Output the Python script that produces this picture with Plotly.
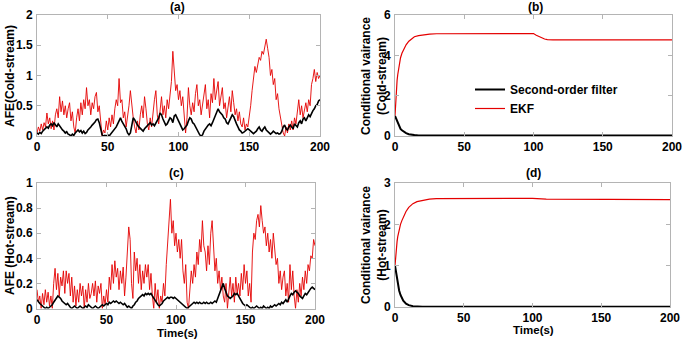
import plotly.graph_objects as go

# ---------------- data ----------------
t_afe = list(range(0, 201))

afe_cold_ekf = [
    0.05, 0.15, 0.08, 0.2, 0.1, 0.22, 0.15, 0.38, 0.2, 0.3,
    0.12, 0.25, 0.1, 0.35, 0.45, 0.3, 0.65, 0.4, 0.58, 0.35,
    0.5, 0.3, 0.45, 0.55, 0.25, 0.4, 0.15, 0.05, 0.3, 0.45,
    0.25, 0.55, 0.35, 0.6, 0.45, 0.8, 0.5, 0.6, 0.35, 0.55,
    0.45, 0.65, 0.72, 0.4, 0.5, 0.2, 0.0, 0.1, 0.05, 0.25,
    0.1, 0.3, 0.15, 0.35, 0.2, 0.45, 0.6, 0.5, 0.95, 0.55,
    0.6, 0.3, 0.4, 0.15, 0.3, 0.5, 0.75, 0.45, 0.3, 0.15,
    0.05, 0.25, 0.1, 0.35, 0.5, 0.3, 0.65, 0.45, 0.2, 0.1,
    0.3, 0.15, 0.4, 0.6, 0.75, 0.35, 0.2, 0.45, 0.65, 0.35,
    0.5, 0.3, 0.6, 0.45, 0.7, 0.9, 1.4, 1.1, 0.75, 0.85,
    0.6, 0.75, 0.5, 0.65, 0.35, 0.05, 0.3, 0.8, 0.5, 0.35,
    0.55, 0.4, 0.7, 0.85, 0.5, 0.6, 0.35, 0.55, 0.75, 0.85,
    0.45, 0.6, 0.3, 0.7, 0.55, 0.95, 0.6, 0.75, 0.9, 0.5,
    0.65, 0.8, 0.45, 0.55, 0.3, 0.5, 0.65, 0.4, 0.75, 0.55,
    0.35, 0.45, 0.25, 0.4, 0.2, 0.15, 0.3, 0.1, 0.2, 0.15,
    0.3, 0.5, 0.75, 0.95, 1.15, 1.05, 1.2, 1.3, 1.25, 1.4,
    1.35, 1.5, 1.6, 1.45, 1.3, 1.0, 1.1, 0.85, 0.95, 0.6,
    0.7, 0.45, 0.3, 0.15, 0.05, 0.0, 0.15, 0.05, 0.2, 0.1,
    0.25, 0.1, 0.3, 0.2, 0.45, 0.6, 0.35, 0.5, 0.3, 0.45,
    0.55, 0.4, 0.6, 0.5, 0.85, 0.95, 1.1, 0.9, 1.05, 0.95,
    1.0,
]

afe_cold_sof = [
    0.05, 0.03, 0.06, 0.04, 0.08, 0.1, 0.12, 0.15, 0.13, 0.18,
    0.2, 0.17, 0.22, 0.18, 0.15, 0.2, 0.17, 0.12, 0.1, 0.08,
    0.05, 0.07, 0.03, 0.02, 0.0, 0.03, 0.01, 0.05, 0.08, 0.1,
    0.07, 0.09, 0.05, 0.08, 0.04, 0.06, 0.1, 0.12, 0.15, 0.18,
    0.2, 0.23, 0.27, 0.28, 0.22, 0.1, 0.02, 0.0, 0.01, 0.0,
    0.02, 0.0, 0.03, 0.05, 0.08, 0.12, 0.15, 0.2, 0.25, 0.3,
    0.24, 0.2, 0.15, 0.12, 0.05, 0.02, 0.05, 0.2, 0.3, 0.27,
    0.22, 0.18, 0.15, 0.12, 0.1, 0.08, 0.12, 0.15, 0.18, 0.2,
    0.22, 0.18, 0.2, 0.17, 0.22, 0.25, 0.3, 0.38, 0.35, 0.28,
    0.22, 0.18, 0.2, 0.25, 0.3, 0.28, 0.22, 0.33, 0.35, 0.3,
    0.25, 0.2, 0.15, 0.1, 0.12, 0.15, 0.18, 0.25, 0.3, 0.28,
    0.22, 0.2, 0.15, 0.1, 0.05, 0.02, 0.0, 0.02, 0.08, 0.12,
    0.15, 0.18, 0.2, 0.17, 0.22, 0.28, 0.35, 0.42, 0.45, 0.4,
    0.38, 0.35, 0.3, 0.28, 0.22, 0.2, 0.25, 0.3, 0.35, 0.32,
    0.25, 0.2, 0.15, 0.1, 0.08, 0.05, 0.06, 0.08, 0.1, 0.12,
    0.1, 0.08, 0.05, 0.04, 0.06, 0.08, 0.12, 0.15, 0.1, 0.08,
    0.12, 0.15, 0.1, 0.08, 0.05, 0.03, 0.05, 0.08, 0.06, 0.04,
    0.05, 0.03, 0.04, 0.08, 0.15, 0.18, 0.12, 0.1, 0.15, 0.18,
    0.15, 0.12, 0.2, 0.18, 0.15, 0.22, 0.25, 0.2, 0.28, 0.3,
    0.25, 0.3, 0.35, 0.32, 0.38, 0.42, 0.45, 0.5, 0.52, 0.58,
    0.6,
]

afe_hot_ekf = [
    0.15, 0.05, 0.1, 0.0, 0.12, 0.03, 0.15, 0.05, 0.13, 0.02,
    0.1, 0.0, 0.2, 0.32, 0.15, 0.28, 0.1, 0.25, 0.18, 0.3,
    0.12, 0.3, 0.2, 0.28, 0.1, 0.25, 0.05, 0.18, 0.02, 0.15,
    0.05, 0.2, 0.1, 0.18, 0.0, 0.15, 0.05, 0.2, 0.08, 0.12,
    0.2, 0.1, 0.22, 0.05, 0.18, 0.12, 0.2, 0.0, 0.1, 0.03,
    0.15, 0.05, 0.25, 0.15, 0.35, 0.2, 0.38, 0.25, 0.32, 0.15,
    0.3, 0.2, 0.33, 0.1, 0.25, 0.45, 0.65, 0.55, 0.2, 0.08,
    0.45, 0.3, 0.4, 0.2, 0.35, 0.15, 0.3, 0.2, 0.35, 0.25,
    0.35, 0.15, 0.28, 0.1, 0.0, 0.2, 0.05, 0.15, 0.0, 0.1,
    0.05, 0.2, 0.1, 0.35, 0.5, 0.65, 0.87, 0.6, 0.7, 0.5,
    0.6, 0.45, 0.55, 0.4, 0.55, 0.3, 0.2, 0.35, 0.05, 0.0,
    0.15, 0.3, 0.2, 0.35, 0.25, 0.45, 0.35, 0.55, 0.45, 0.7,
    0.5, 0.45, 0.3, 0.5, 0.35, 0.6, 0.7, 0.45, 0.3, 0.4,
    0.2, 0.3, 0.15, 0.25, 0.1, 0.05, 0.2, 0.0, 0.15, 0.25,
    0.1, 0.2, 0.05, 0.25, 0.12, 0.2, 0.1, 0.28, 0.15, 0.35,
    0.2, 0.3, 0.1, 0.2, 0.05, 0.45, 0.6, 0.55, 0.7, 0.75,
    0.65, 0.82, 0.7, 0.6, 0.65, 0.5, 0.6, 0.45, 0.55, 0.4,
    0.6, 0.45, 0.35, 0.4, 0.2, 0.3, 0.15, 0.25, 0.3, 0.1,
    0.2, 0.05, 0.35, 0.15, 0.3, 0.1, 0.0, 0.15, 0.05, 0.2,
    0.1, 0.25, 0.15, 0.3, 0.2, 0.35, 0.3, 0.42, 0.4, 0.55,
    0.5,
]

afe_hot_sof = [
    0.07, 0.05, 0.04, 0.03, 0.02, 0.01, 0.0, 0.01, 0.0, 0.01,
    0.02, 0.03, 0.05, 0.07, 0.09, 0.1, 0.09, 0.08, 0.06, 0.05,
    0.04, 0.03, 0.04, 0.02, 0.01, 0.0, 0.01, 0.02, 0.01, 0.0,
    0.01, 0.02, 0.01, 0.0, 0.01, 0.02, 0.01, 0.03, 0.02, 0.01,
    0.0, 0.01, 0.02, 0.01, 0.0, 0.01, 0.02, 0.03, 0.02, 0.03,
    0.04, 0.03, 0.05, 0.04, 0.05, 0.06, 0.05, 0.06, 0.05, 0.04,
    0.05, 0.04, 0.03, 0.04, 0.02, 0.01, 0.02, 0.01, 0.0, 0.02,
    0.03, 0.05, 0.06, 0.08, 0.09, 0.1, 0.11, 0.1, 0.12, 0.11,
    0.12, 0.11, 0.12, 0.1, 0.08, 0.06, 0.04, 0.03, 0.02, 0.03,
    0.04, 0.06, 0.07, 0.08, 0.09, 0.08, 0.09, 0.09, 0.08, 0.09,
    0.08, 0.07, 0.06, 0.05, 0.04, 0.03, 0.02, 0.01, 0.0, 0.01,
    0.02, 0.03, 0.04, 0.05, 0.04, 0.05, 0.04, 0.05, 0.04, 0.04,
    0.05, 0.04, 0.05, 0.04, 0.04, 0.05, 0.04, 0.05, 0.06, 0.05,
    0.08, 0.11, 0.15, 0.18, 0.2, 0.16, 0.12, 0.1, 0.09, 0.08,
    0.09, 0.1, 0.12, 0.11, 0.12, 0.1, 0.08, 0.05, 0.04, 0.03,
    0.02, 0.03, 0.02, 0.01, 0.0, 0.01, 0.0, 0.01, 0.02, 0.01,
    0.0, 0.01, 0.0, 0.02, 0.01, 0.0, 0.01, 0.0, 0.02, 0.01,
    0.02, 0.03, 0.02, 0.03, 0.04, 0.03, 0.05, 0.04, 0.06, 0.07,
    0.05, 0.08, 0.1, 0.12, 0.11, 0.13, 0.14, 0.13, 0.12, 0.1,
    0.09, 0.08, 0.1, 0.12, 0.11, 0.13, 0.15, 0.16, 0.17, 0.16,
    0.15,
]

# conditional variance (cold stream)
t_var_cold = [0, 0.5, 1, 1.5, 2, 3, 4, 5, 6, 8, 10, 12, 14, 17, 20, 25, 30, 50,
              100, 102, 104, 106, 108, 110, 114, 200]
var_cold_ekf = [1.0, 1.8, 2.35, 2.75, 3.05, 3.55, 3.88, 4.1, 4.26, 4.52, 4.7, 4.83,
                4.92, 4.98, 5.02, 5.05, 5.07, 5.08, 5.08, 5.0, 4.93, 4.86, 4.81,
                4.78, 4.77, 4.77]
var_cold_sof = [1.0, 0.92, 0.8, 0.7, 0.6, 0.45, 0.35, 0.28, 0.22, 0.14, 0.09, 0.06,
                0.045, 0.03, 0.025, 0.02, 0.02, 0.02, 0.02, 0.025, 0.03, 0.03, 0.03,
                0.03, 0.025, 0.02]

# conditional variance (hot stream)
t_var_hot = [0, 0.5, 1, 1.5, 2, 3, 4, 5, 6, 8, 10, 13, 16, 20, 25, 30, 100, 110, 200]
var_hot_ekf = [1.0, 1.28, 1.45, 1.58, 1.7, 1.88, 2.0, 2.09, 2.17, 2.31, 2.41, 2.5,
               2.55, 2.58, 2.61, 2.62, 2.63, 2.61, 2.6]
var_hot_sof = [1.0, 0.88, 0.75, 0.63, 0.53, 0.4, 0.29, 0.21, 0.15, 0.08, 0.045, 0.02,
               0.01, 0.005, 0.005, 0.005, 0.005, 0.005, 0.005]

x_ticks = [0, 50, 100, 150, 200]
panel_titles = ["(a)", "(b)", "(c)", "(d)"]
series_names = ["Second-order filter", "EKF"]

# ---------------- styling ----------------
W, H = 685, 339
RED = "rgb(228,0,0)"
BLACK = "black"
FONT = "Liberation Sans, Arial, sans-serif"
AX_COL = "#b4b4b4"


def px_x(p):
    return p / W


def px_y(p):
    return 1 - p / H


fig = go.Figure()

# (a)
fig.add_trace(go.Scatter(x=t_afe, y=afe_cold_ekf, mode="lines", line=dict(color=RED, width=0.9),
                         xaxis="x", yaxis="y", showlegend=False))
fig.add_trace(go.Scatter(x=t_afe, y=afe_cold_sof, mode="lines", line=dict(color=BLACK, width=1.6),
                         xaxis="x", yaxis="y", showlegend=False))
# (b)
fig.add_trace(go.Scatter(x=t_var_cold, y=var_cold_sof, mode="lines", line=dict(color=BLACK, width=2),
                         xaxis="x2", yaxis="y2", name=series_names[0], showlegend=True))
fig.add_trace(go.Scatter(x=t_var_cold, y=var_cold_ekf, mode="lines", line=dict(color=RED, width=1.2),
                         xaxis="x2", yaxis="y2", name=series_names[1], showlegend=True))
# (c)
fig.add_trace(go.Scatter(x=t_afe, y=afe_hot_ekf, mode="lines", line=dict(color=RED, width=0.9),
                         xaxis="x3", yaxis="y3", showlegend=False))
fig.add_trace(go.Scatter(x=t_afe, y=afe_hot_sof, mode="lines", line=dict(color=BLACK, width=1.6),
                         xaxis="x3", yaxis="y3", showlegend=False))
# (d)
fig.add_trace(go.Scatter(x=t_var_hot, y=var_hot_ekf, mode="lines", line=dict(color=RED, width=1.2),
                         xaxis="x4", yaxis="y4", showlegend=False))
fig.add_trace(go.Scatter(x=t_var_hot, y=var_hot_sof, mode="lines", line=dict(color=BLACK, width=2),
                         xaxis="x4", yaxis="y4", showlegend=False))

tickfont = dict(family=FONT, size=12, color="black", weight="bold")


def xax(dom, anchor):
    return dict(domain=dom, anchor=anchor, range=[0, 200], tickvals=x_ticks,
                showline=True, mirror="ticks", linecolor=AX_COL, linewidth=1,
                ticks="inside", ticklen=4, tickcolor=AX_COL, showgrid=False,
                zeroline=False, tickfont=tickfont, ticklabelstandoff=0,
                automargin=False)


def yax(dom, anchor, rng, dtick):
    return dict(domain=dom, anchor=anchor, range=rng, dtick=dtick,
                showline=True, mirror="ticks", linecolor=AX_COL, linewidth=1,
                ticks="inside", ticklen=4, tickcolor=AX_COL, showgrid=False,
                zeroline=False, tickfont=tickfont, ticklabelstandoff=1,
                automargin=False)


dom_a_x = [px_x(37), px_x(320)]
dom_b_x = [px_x(395), px_x(672)]
dom_c_x = [px_x(37), px_x(315)]
dom_d_x = [px_x(395), px_x(670)]
dom_top_y = [px_y(136), px_y(15)]
dom_c_y = [px_y(308.5), px_y(183)]
dom_d_y = [px_y(307), px_y(183)]

lab = dict(family=FONT, size=12, color="black", weight="bold")
lab_small = dict(family=FONT, size=11.5, color="black", weight="bold")


def ann(text, x, y, angle=0, pad=1, font=lab):
    return dict(text=text, x=px_x(x), y=px_y(y), xref="paper", yref="paper",
                xanchor="center", yanchor="middle", showarrow=False,
                textangle=angle, font=font, borderpad=pad)


annotations = [
    ann(panel_titles[0], 177, 7),
    ann(panel_titles[1], 535, 7),
    ann(panel_titles[2], 176, 173),
    ann(panel_titles[3], 533, 173),
    ann("AFE(Cold-stream)", 10, 76, -90),
    ann("AFE (Hot-stream)", 10, 246, -90),
    ann("Conditional vairance<br>(Cold-stream)", 374, 76, -90),
    ann("Conditional vairance<br>(Hot-stream)", 374, 245, -90),
    ann("Time(s)", 177, 332.5, 0, 0, lab_small),
    ann("Time(s)", 533, 329.5, 0, 0, lab_small),
]

fig.update_layout(
    template="none",
    width=W, height=H,
    margin=dict(l=0, r=0, t=0, b=0, pad=0, autoexpand=False),
    paper_bgcolor="white", plot_bgcolor="white",
    xaxis=xax(dom_a_x, "y"), yaxis=yax(dom_top_y, "x", [0, 2], 0.5),
    xaxis2=xax(dom_b_x, "y2"), yaxis2=yax(dom_top_y, "x2", [0, 6], 2),
    xaxis3=xax(dom_c_x, "y3"), yaxis3=yax(dom_c_y, "x3", [0, 1], 0.2),
    xaxis4=xax(dom_d_x, "y4"), yaxis4=yax(dom_d_y, "x4", [0, 3], 1),
    annotations=annotations,
    showlegend=True,
    legend=dict(x=px_x(470), y=px_y(75), xanchor="left", yanchor="top",
                bgcolor="rgba(0,0,0,0)", font=dict(family=FONT, size=12, color="black", weight="bold"),
                itemwidth=30, tracegroupgap=0, borderwidth=0),
)

fig.write_html("out.html",
               config={"displayModeBar": False},
               post_script="document.body.style.margin='0';document.body.style.padding='0';"
                           "document.body.style.overflow='hidden';")
